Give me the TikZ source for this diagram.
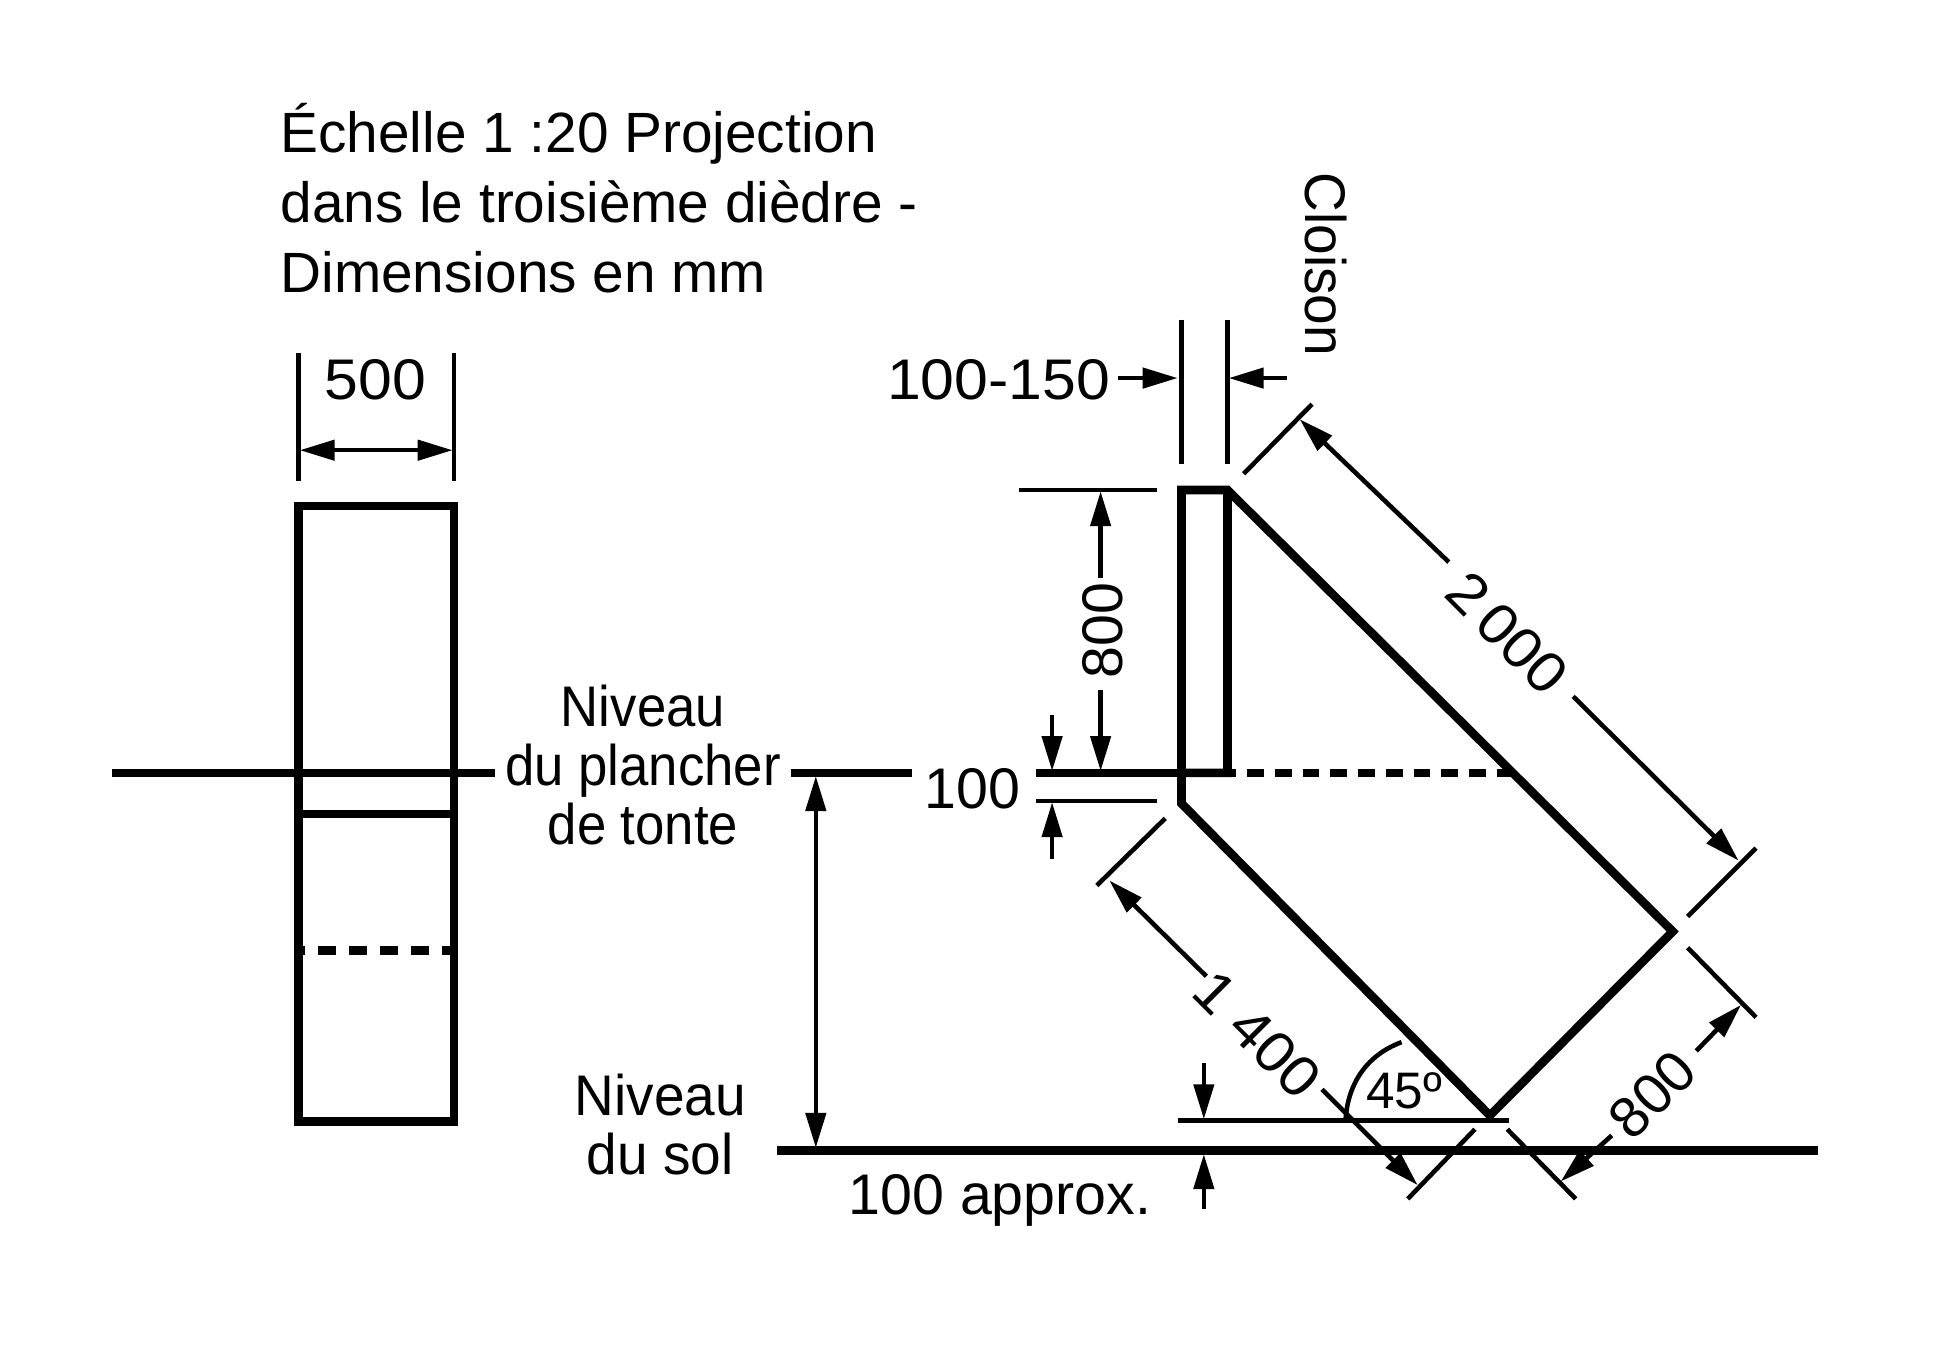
\documentclass[tikz,border=0pt]{standalone}
\usepackage{fontspec}
\setmainfont{Liberation Sans}
\newfontfamily\chiffres[FakeStretch=1.06]{Liberation Sans}
\newfontfamily\moyen[FakeStretch=0.96]{Liberation Sans}
\newfontfamily\etroit[FakeStretch=0.92]{Liberation Sans}
\usetikzlibrary{arrows.meta}
\tikzset{
  epais/.style={line width=2.45pt},
  fin/.style={line width=1.3pt},
  cote/.style={fin,-{Triangle[length=0.35cm,width=0.2cm]}},
  cotes/.style={fin,{Triangle[length=0.35cm,width=0.2cm]}-{Triangle[length=0.35cm,width=0.2cm]}},
  pointille/.style={epais,dash pattern=on 0.167cm off 0.11cm},
  pointillegauche/.style={epais,dash pattern=on 0.18cm off 0.13cm,dash phase=0.11cm},
  texte/.style={font=\fontsize{16.3}{16.7}\selectfont,inner sep=0pt,align=center},
  nombre/.style={font=\fontsize{16.3}{16.7}\selectfont\chiffres,inner sep=0pt},
  niveau/.style={font=\fontsize{16.3}{16.7}\selectfont\etroit,inner sep=0pt,align=center},
  niveaumoyen/.style={font=\fontsize{16.3}{16.7}\selectfont\moyen,inner sep=0pt,align=center}
}
\begin{document}
\begin{tikzpicture}[x=0.012436cm,y=-0.012436cm]
   \useasboundingbox (0,0) rectangle (1568,1096);
   \draw (225,159.5) node[texte,anchor=west,align=left,font=\fontsize{16.15}{20}\selectfont] (titre) {Échelle 1 :20 Projection\\dans le troisième dièdre -\\Dimensions en mm};
   \draw (1066,212.5) node[niveaumoyen,rotate=-90] (cloison) {Cloison};
   % vue de face
   \draw[epais] (240,407) rectangle (365,902);
   \draw[epais] (90,621.5) -- (398,621.5);
   \draw[epais] (240,654.5) -- (365,654.5);
   \draw[pointillegauche] (240,764.5) -- (365,764.5);
   \draw[fin] (240,284) -- (240,387);
   \draw[fin] (365,284) -- (365,387);
   \draw[cotes] (241,362) -- (364,362);
   \draw (302,305) node[nombre] (largeur) {500};
   % niveaux
   \draw (517,615) node[niveau] (plancher) {Niveau\\du plancher\\de tonte};
   \draw (531,904) node[niveaumoyen] (sol) {Niveau\\du sol};
   \draw[epais] (636,621.5) -- (733,621.5);
   \draw[epais] (625,925) -- (1462,925);
   \draw[cotes] (656,624) -- (656,923);
   % vue de profil
   \draw[epais,line join=miter] (950,621.5) -- (950,394) -- (987,394) -- (1345,749) -- (1198,897) -- (950,646) -- (950,621.5) -- (987,621.5) -- (987,394);
   \draw[pointille] (1003,621.5) -- (1215,621.5);
   \draw[epais] (833,621.5) -- (994,621.5);
   \draw[fin] (833,644) -- (930,644);
   \draw[fin] (819,394) -- (930,394);
   \draw[fin] (950,257) -- (950,373);
   \draw[fin] (987,257) -- (987,373);
   \draw[cote] (899,304) -- (947,304);
   \draw[cote] (1035,304) -- (988,304);
   \draw (803,305) node[nombre] (cloisonmin) {100-150};
   \draw[cote] (885,465) -- (885,395);
   \draw[cote] (885,555) -- (885,620);
   \draw (887,507) node[texte,rotate=90] (hauteur) {800};
   \draw[cote] (846,575) -- (846,620);
   \draw[cote] (846,691) -- (846,645);
   \draw (782,634) node[texte] (retrait) {100};
   % cotes obliques
   \draw[fin] (1000,381) -- (1055,325);
   \draw[fin] (1357,737) -- (1412,682);
   \draw[cote] (1165,452) -- (1045,337);
   \draw[cote] (1265,560) -- (1398,692);
   \draw (1212,509) node[nombre,rotate=-45] (longueur) {2\,000};
   \draw[fin] (882,712) -- (937,658);
   \draw[fin] (1132,964) -- (1186,908);
   \draw[cote] (970,785) -- (892,708);
   \draw[cote] (1063,876) -- (1140,953);
   \draw (1011,832) node[nombre,rotate=-45] (dessous) {1\hspace{0.3em}400};
   \draw[fin] (1212,908) -- (1267,964);
   \draw[fin] (1357,762) -- (1412,818);
   \draw[cote] (1296,913) -- (1255,950);
   \draw[cote] (1364,845) -- (1400,808);
   \draw (1329,880) node[texte,rotate=45] (largeurbas) {800};
   % angle et garde au sol
   \draw[fin] (947,901) -- (1213,901);
   \draw[fin] (1082,900) .. controls (1084,870) and (1100,848) .. (1127,838);
   \draw (1129,877) node[texte,font=\fontsize{14.6}{16}\selectfont] (angle) {45º};
   \draw[cote] (968,855) -- (968,900);
   \draw[cote] (968,972) -- (968,928);
   \draw (804,965) node[texte] (garde) {100 approx.};
\end{tikzpicture}
\end{document}
